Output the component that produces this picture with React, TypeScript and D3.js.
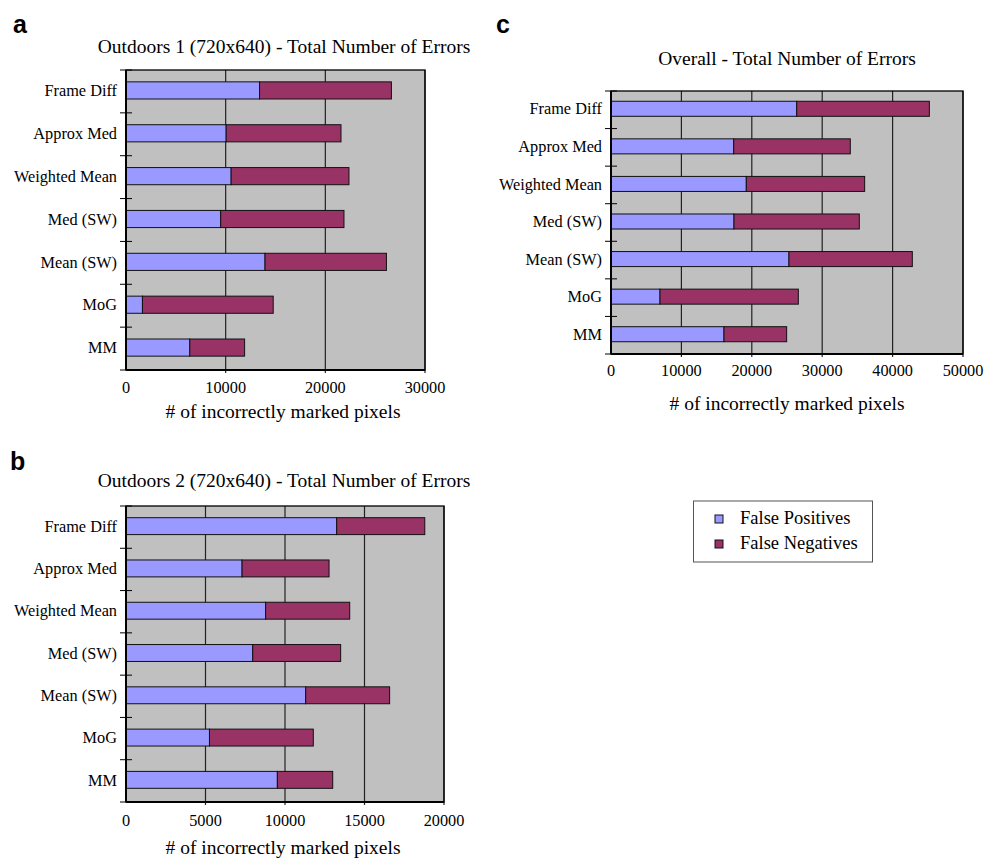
import React from 'react';
import * as d3 from 'd3';

// methods, top to bottom
const methods = ['Frame Diff', 'Approx Med', 'Weighted Mean', 'Med (SW)', 'Mean (SW)', 'MoG', 'MM'];

// outdoors 1
const out1FP = [13400, 10050, 10550, 9500, 13950, 1650, 6400];
const out1FN = [13230, 11520, 11820, 12370, 12180, 13120, 5500];

// outdoors 2
const out2FP = [13250, 7300, 8780, 7970, 11300, 5250, 9520];
const out2FN = [5540, 5470, 5290, 5530, 5280, 6530, 3480];

// overall
const allFP = [26380, 17430, 19220, 17470, 25280, 6960, 16050];
const allFN = [18840, 16560, 16810, 17800, 17520, 19650, 8900];

const ticksA = [0, 10000, 20000, 30000];
const ticksB = [0, 5000, 10000, 15000, 20000];
const ticksC = [0, 10000, 20000, 30000, 40000, 50000];

const seriesNames = ['False Positives', 'False Negatives'];
const colors = ['#9999ff', '#993366'];

const serif = "'Liberation Serif', 'DejaVu Serif', serif";
const sans = "'Liberation Sans', Arial, sans-serif";

type PanelProps = {
    fp: number[];
    fn: number[];
    ticks: number[];
    x0: number; x1: number; y0: number; y1: number;
    title: string;
    titleX: number; titleY: number;
    tickY: number; axisTitleY: number; axisTitleX: number;
    letter: string; letterX: number; letterY: number;
};

const Panel = (p: PanelProps) => {
    const x = d3.scaleLinear().domain([0, p.ticks[p.ticks.length - 1]]).range([p.x0, p.x1]);
    const y = d3.scaleBand().domain(methods).range([p.y0, p.y1]).padding(0);
    const rows = methods.map((m, i) => ({ m, fp: p.fp[i], fn: p.fn[i] }));
    const stacked = d3.stack<any>().keys(['fp', 'fn'])(rows);
    const barH = y.bandwidth() * 0.4;
    const step = y.step();

    return (
        <g>
            <text x={p.letterX} y={p.letterY} style={{ fontFamily: sans, fontWeight: 'bold', fontSize: 25 }}>{p.letter}</text>
            <text x={p.titleX} y={p.titleY} textAnchor="middle" style={{ fontFamily: serif, fontSize: 19.5 }}>{p.title}</text>
            <rect x={p.x0} y={p.y0} width={p.x1 - p.x0} height={p.y1 - p.y0} fill="#c0c0c0" />
            {p.ticks.slice(1).map(t => (
                <line key={t} x1={x(t)} x2={x(t)} y1={p.y0} y2={p.y1 + 3} stroke="#222" strokeWidth={1.2} />
            ))}
            {stacked.map((s, si) => s.map((d, i) => (
                <rect key={si + '-' + i}
                    x={x(d[0])} width={x(d[1]) - x(d[0])}
                    y={(y(methods[i]) as number) + (step - barH) / 2 - 1} height={barH}
                    fill={colors[si]} stroke="#111" strokeWidth={1} />
            )))}
            <rect x={p.x0} y={p.y0} width={p.x1 - p.x0} height={p.y1 - p.y0} fill="none" stroke="#000" strokeWidth={1.3} />
            <line x1={p.x0} x2={p.x0} y1={p.y0} y2={p.y1} stroke="#000" strokeWidth={2} />
            <line x1={p.x0} x2={p.x1} y1={p.y1} y2={p.y1} stroke="#000" strokeWidth={2} />
            {d3.range(methods.length + 1).map(i => (
                <line key={i} x1={p.x0 - 6} x2={p.x0 + 6} y1={p.y0 + i * step} y2={p.y0 + i * step} stroke="#000" strokeWidth={1} />
            ))}
            {methods.map(m => (
                <text key={m} x={p.x0 - 9} y={(y(m) as number) + step / 2 - 1} dy="0.35em" textAnchor="end"
                    style={{ fontFamily: serif, fontSize: 16.3 }}>{m}</text>
            ))}
            {p.ticks.map(t => (
                <text key={t} x={x(t)} y={p.tickY} textAnchor="middle" style={{ fontFamily: serif, fontSize: 16.3 }}>{t}</text>
            ))}
            <text x={p.axisTitleX} y={p.axisTitleY} textAnchor="middle" style={{ fontFamily: serif, fontSize: 19.5 }}># of incorrectly marked pixels</text>
        </g>
    );
};

export default function App() {
    return (
        <svg width={998} height={858} style={{ position: 'absolute', left: 0, top: 0, background: '#fff' }}>
            <Panel fp={out1FP} fn={out1FN} ticks={ticksA}
                x0={126} x1={425} y0={70} y1={370}
                title="Outdoors 1 (720x640) - Total Number of Errors" titleX={284} titleY={53}
                tickY={393} axisTitleX={283} axisTitleY={418}
                letter="a" letterX={13} letterY={33} />
            <Panel fp={out2FP} fn={out2FN} ticks={ticksB}
                x0={126} x1={444} y0={506} y1={802}
                title="Outdoors 2 (720x640) - Total Number of Errors" titleX={284} titleY={487}
                tickY={826} axisTitleX={283} axisTitleY={854}
                letter="b" letterX={10} letterY={470} />
            <Panel fp={allFP} fn={allFN} ticks={ticksC}
                x0={611} x1={963} y0={91} y1={354}
                title="Overall - Total Number of Errors" titleX={787} titleY={65}
                tickY={376} axisTitleX={787} axisTitleY={410}
                letter="c" letterX={496} letterY={33} />
            <g>
                <rect x={693.5} y={501} width={179} height={61} fill="#fff" stroke="#555" strokeWidth={1} />
                {seriesNames.map((s, i) => (
                    <g key={s}>
                        <rect x={715} y={515 + i * 25} width={8} height={8} fill={colors[i]} stroke="#111" strokeWidth={1} />
                        <text x={740} y={523.5 + i * 25} style={{ fontFamily: serif, fontSize: 18.5 }}>{s}</text>
                    </g>
                ))}
            </g>
        </svg>
    );
}
